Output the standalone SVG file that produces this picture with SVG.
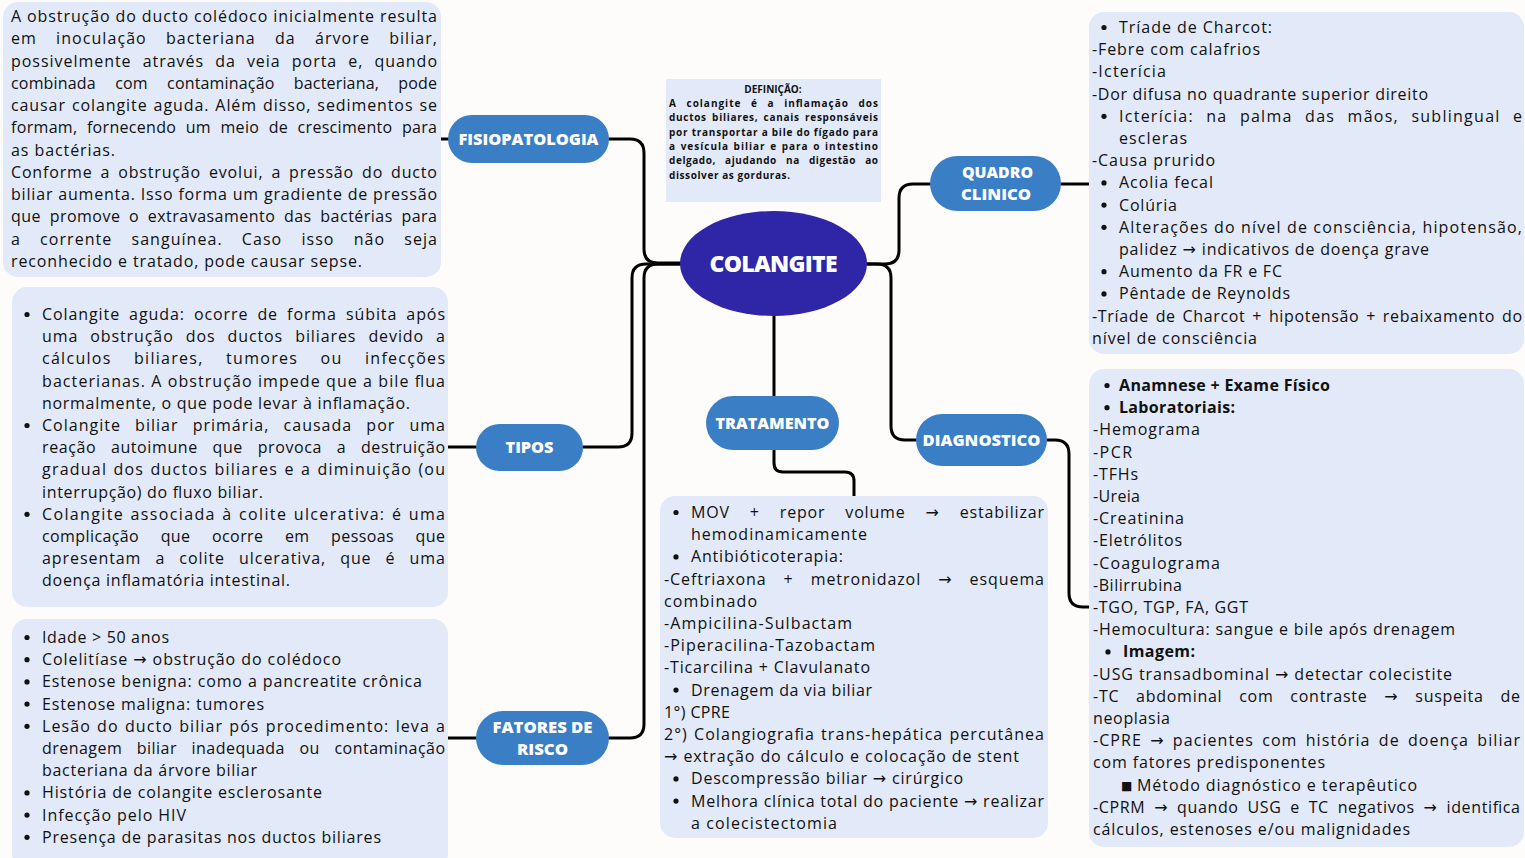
<svg xmlns="http://www.w3.org/2000/svg" width="1525" height="858" viewBox="0 0 1525 858">
<style>
.panel{fill:#e2e9f8}
.pill{fill:#3a7ec6}
.t{font-family:"Open Sans","DejaVu Sans",sans-serif;font-size:16px;fill:#111}
.dot{fill:#111}
.b{font-weight:700}
.pt{font-family:"Open Sans","DejaVu Sans",sans-serif;font-size:16px;font-weight:800;fill:#fff;text-anchor:middle}
.big{font-size:23px}
.sq{font-size:12px}
.def{font-family:"Open Sans","DejaVu Sans",sans-serif;font-size:10px;font-weight:700;fill:#111}
.conn{fill:none;stroke:#000;stroke-width:3;stroke-linecap:round;stroke-linejoin:round}
</style>
<rect width="1525" height="858" fill="#fdfcfa"/>

<g id="connectors">
<path class="conn" d="M441,139 H448"/>
<path class="conn" d="M609,139 H630 Q644,139 644,153 V249 Q644,263 658,263 H682"/>
<path class="conn" d="M448,447 H476"/>
<path class="conn" d="M583,447 H618 Q632,447 632,433 V278 Q632,264 646,264 H682"/>
<path class="conn" d="M448,738 H476"/>
<path class="conn" d="M609,738 H630 Q644,738 644,724 V278 Q644,264 658,264 H682"/>
<path class="conn" d="M865,264 H885 Q899,264 899,250 V198 Q899,184 913,184 H930"/>
<path class="conn" d="M865,264 H877 Q891,264 891,278 V426 Q891,440 905,440 H916"/>
<path class="conn" d="M1061,184 H1089"/>
<path class="conn" d="M1047,440 H1055 Q1069,440 1069,454 V593 Q1069,607 1083,607 H1092"/>
<path class="conn" d="M774,314 V397"/>
<path class="conn" d="M774,450 V463 Q774,472 783,472 H845 Q854,472 854,481 V496"/>
</g>

<g id="definicao">
<rect x="666" y="79" width="215" height="123" class="panel"/>
<text class="def" x="773" y="93" text-anchor="middle">DEFINIÇÃO:</text>
<text class="def" x="669" y="107" textLength="209" lengthAdjust="spacing" word-spacing="6">A colangite é a inflamação dos</text>
<text class="def" x="669" y="121.3" textLength="209" lengthAdjust="spacing" word-spacing="2">ductos biliares, canais responsáveis</text>
<text class="def" x="669" y="135.6" textLength="209" lengthAdjust="spacing">por transportar a bile do fígado para</text>
<text class="def" x="669" y="149.9" textLength="209" lengthAdjust="spacing" word-spacing="1">a vesícula biliar e para o intestino</text>
<text class="def" x="669" y="164.2" textLength="209" lengthAdjust="spacing" word-spacing="6">delgado, ajudando na digestão ao</text>
<text class="def" x="669" y="178.5" textLength="121" lengthAdjust="spacing">dissolver as gorduras.</text>
</g>

<g id="fisiopatologia-texto">
<rect x="3" y="2" width="438" height="275" rx="15" class="panel"/>
<text class="t" x="11" y="22" textLength="426" lengthAdjust="spacing">A obstrução do ducto colédoco inicialmente resulta</text>
<text class="t" x="11" y="44.3" textLength="426" lengthAdjust="spacing" word-spacing="14">em inoculação bacteriana da árvore biliar,</text>
<text class="t" x="11" y="66.5" textLength="426" lengthAdjust="spacing" word-spacing="6">possivelmente através da veia porta e, quando</text>
<text class="t" x="11" y="88.8" textLength="426" lengthAdjust="spacing" word-spacing="15">combinada com contaminação bacteriana, pode</text>
<text class="t" x="11" y="111.1" textLength="426" lengthAdjust="spacing" word-spacing="1">causar colangite aguda. Além disso, sedimentos se</text>
<text class="t" x="11" y="133.4" textLength="426" lengthAdjust="spacing" word-spacing="5">formam, fornecendo um meio de crescimento para</text>
<text class="t" x="11" y="155.6" textLength="104" lengthAdjust="spacing">as bactérias.</text>
<text class="t" x="11" y="177.9" textLength="426" lengthAdjust="spacing" word-spacing="3">Conforme a obstrução evolui, a pressão do ducto</text>
<text class="t" x="11" y="200.2" textLength="426" lengthAdjust="spacing">biliar aumenta. Isso forma um gradiente de pressão</text>
<text class="t" x="11" y="222.4" textLength="426" lengthAdjust="spacing" word-spacing="4">que promove o extravasamento das bactérias para</text>
<text class="t" x="11" y="244.7" textLength="426" lengthAdjust="spacing" word-spacing="14">a corrente sanguínea. Caso isso não seja</text>
<text class="t" x="11" y="267" textLength="351" lengthAdjust="spacing">reconhecido e tratado, pode causar sepse.</text>
</g>

<g id="tipos-texto">
<rect x="12" y="287" width="436" height="320" rx="15" class="panel"/>
<circle class="dot" cx="27" cy="314.5" r="2.6"/>
<text class="t" x="42" y="320" textLength="403" lengthAdjust="spacing" word-spacing="4">Colangite aguda: ocorre de forma súbita após</text>
<text class="t" x="42" y="342.2" textLength="403" lengthAdjust="spacing" word-spacing="7">uma obstrução dos ductos biliares devido a</text>
<text class="t" x="42" y="364.4" textLength="403" lengthAdjust="spacing" word-spacing="17">cálculos biliares, tumores ou infecções</text>
<text class="t" x="42" y="386.6" textLength="403" lengthAdjust="spacing">bacterianas. A obstrução impede que a bile flua</text>
<text class="t" x="42" y="408.8" textLength="368" lengthAdjust="spacing">normalmente, o que pode levar à inflamação.</text>
<circle class="dot" cx="27" cy="425.5" r="2.6"/>
<text class="t" x="42" y="431" textLength="403" lengthAdjust="spacing" word-spacing="9">Colangite biliar primária, causada por uma</text>
<text class="t" x="42" y="453.2" textLength="403" lengthAdjust="spacing" word-spacing="10">reação autoimune que provoca a destruição</text>
<text class="t" x="42" y="475.4" textLength="403" lengthAdjust="spacing" word-spacing="1">gradual dos ductos biliares e a diminuição (ou</text>
<text class="t" x="42" y="497.6" textLength="221" lengthAdjust="spacing">interrupção) do fluxo biliar.</text>
<circle class="dot" cx="27" cy="514.3" r="2.6"/>
<text class="t" x="42" y="519.8" textLength="403" lengthAdjust="spacing" word-spacing="1">Colangite associada à colite ulcerativa: é uma</text>
<text class="t" x="42" y="542" textLength="403" lengthAdjust="spacing" word-spacing="17">complicação que ocorre em pessoas que</text>
<text class="t" x="42" y="564.2" textLength="403" lengthAdjust="spacing" word-spacing="9">apresentam a colite ulcerativa, que é uma</text>
<text class="t" x="42" y="586.4" textLength="248" lengthAdjust="spacing">doença inflamatória intestinal.</text>
</g>

<g id="fatores-texto">
<rect x="12" y="619" width="436" height="250" rx="15" class="panel"/>
<circle class="dot" cx="27" cy="637.5" r="2.6"/>
<text class="t" x="42" y="643" textLength="127" lengthAdjust="spacing">Idade &gt; 50 anos</text>
<circle class="dot" cx="27" cy="659.7" r="2.6"/>
<text class="t" x="42" y="665.2" textLength="299" lengthAdjust="spacing">Colelitíase → obstrução do colédoco</text>
<circle class="dot" cx="27" cy="681.9" r="2.6"/>
<text class="t" x="42" y="687.4" textLength="380" lengthAdjust="spacing">Estenose benigna: como a pancreatite crônica</text>
<circle class="dot" cx="27" cy="704.1" r="2.6"/>
<text class="t" x="42" y="709.6" textLength="222" lengthAdjust="spacing">Estenose maligna: tumores</text>
<circle class="dot" cx="27" cy="726.3" r="2.6"/>
<text class="t" x="42" y="731.8" textLength="403" lengthAdjust="spacing" word-spacing="1">Lesão do ducto biliar pós procedimento: leva a</text>
<text class="t" x="42" y="754" textLength="403" lengthAdjust="spacing" word-spacing="10">drenagem biliar inadequada ou contaminação</text>
<text class="t" x="42" y="776.2" textLength="215" lengthAdjust="spacing">bacteriana da árvore biliar</text>
<circle class="dot" cx="27" cy="792.9" r="2.6"/>
<text class="t" x="42" y="798.4" textLength="280" lengthAdjust="spacing">História de colangite esclerosante</text>
<circle class="dot" cx="27" cy="815.1" r="2.6"/>
<text class="t" x="42" y="820.6" textLength="144" lengthAdjust="spacing">Infecção pelo HIV</text>
<circle class="dot" cx="27" cy="837.3" r="2.6"/>
<text class="t" x="42" y="842.8" textLength="339" lengthAdjust="spacing">Presença de parasitas nos ductos biliares</text>
</g>

<g id="tratamento-texto">
<rect x="660" y="496" width="388" height="342" rx="15" class="panel"/>
<circle class="dot" cx="676" cy="512.5" r="2.6"/>
<text class="t" x="691" y="518" textLength="353" lengthAdjust="spacing" word-spacing="15">MOV + repor volume → estabilizar</text>
<text class="t" x="691" y="540.2" textLength="176" lengthAdjust="spacing">hemodinamicamente</text>
<circle class="dot" cx="676" cy="556.9" r="2.6"/>
<text class="t" x="691" y="562.4" textLength="152" lengthAdjust="spacing">Antibióticoterapia:</text>
<text class="t" x="664" y="584.6" textLength="380" lengthAdjust="spacing" word-spacing="12">-Ceftriaxona + metronidazol → esquema</text>
<text class="t" x="664" y="606.8" textLength="93" lengthAdjust="spacing">combinado</text>
<text class="t" x="664" y="629" textLength="188" lengthAdjust="spacing">-Ampicilina-Sulbactam</text>
<text class="t" x="664" y="651.2" textLength="211" lengthAdjust="spacing">-Piperacilina-Tazobactam</text>
<text class="t" x="664" y="673.4" textLength="206" lengthAdjust="spacing">-Ticarcilina + Clavulanato</text>
<circle class="dot" cx="676" cy="690.1" r="2.6"/>
<text class="t" x="691" y="695.6" textLength="181" lengthAdjust="spacing">Drenagem da via biliar</text>
<text class="t" x="664" y="717.8" textLength="66" lengthAdjust="spacing">1°) CPRE</text>
<text class="t" x="664" y="740" textLength="380" lengthAdjust="spacing" word-spacing="1">2°) Colangiografia trans-hepática percutânea</text>
<text class="t" x="664" y="762.2" textLength="355" lengthAdjust="spacing">→ extração do cálculo e colocação de stent</text>
<circle class="dot" cx="676" cy="778.9" r="2.6"/>
<text class="t" x="691" y="784.4" textLength="272" lengthAdjust="spacing">Descompressão biliar → cirúrgico</text>
<circle class="dot" cx="676" cy="801.1" r="2.6"/>
<text class="t" x="691" y="806.6" textLength="353" lengthAdjust="spacing">Melhora clínica total do paciente → realizar</text>
<text class="t" x="691" y="828.8" textLength="146" lengthAdjust="spacing">a colecistectomia</text>
</g>

<g id="quadro-clinico-texto">
<rect x="1089" y="12" width="435" height="342" rx="15" class="panel"/>
<circle class="dot" cx="1104" cy="27.5" r="2.6"/>
<text class="t" x="1119" y="33" textLength="153" lengthAdjust="spacing">Tríade de Charcot:</text>
<text class="t" x="1092" y="55.2" textLength="168" lengthAdjust="spacing">-Febre com calafrios</text>
<text class="t" x="1092" y="77.4" textLength="74" lengthAdjust="spacing">-Icterícia</text>
<text class="t" x="1092" y="99.6" textLength="336" lengthAdjust="spacing">-Dor difusa no quadrante superior direito</text>
<circle class="dot" cx="1104" cy="116.3" r="2.6"/>
<text class="t" x="1119" y="121.8" textLength="403" lengthAdjust="spacing" word-spacing="7">Icterícia: na palma das mãos, sublingual e</text>
<text class="t" x="1119" y="144" textLength="68" lengthAdjust="spacing">escleras</text>
<text class="t" x="1092" y="166.2" textLength="123" lengthAdjust="spacing">-Causa prurido</text>
<circle class="dot" cx="1104" cy="182.9" r="2.6"/>
<text class="t" x="1119" y="188.4" textLength="94" lengthAdjust="spacing">Acolia fecal</text>
<circle class="dot" cx="1104" cy="205.1" r="2.6"/>
<text class="t" x="1119" y="210.6" textLength="58" lengthAdjust="spacing">Colúria</text>
<circle class="dot" cx="1104" cy="227.3" r="2.6"/>
<text class="t" x="1119" y="232.8" textLength="403" lengthAdjust="spacing">Alterações do nível de consciência, hipotensão,</text>
<text class="t" x="1119" y="255" textLength="310" lengthAdjust="spacing">palidez → indicativos de doença grave</text>
<circle class="dot" cx="1104" cy="271.7" r="2.6"/>
<text class="t" x="1119" y="277.2" textLength="163" lengthAdjust="spacing">Aumento da FR e FC</text>
<circle class="dot" cx="1104" cy="293.9" r="2.6"/>
<text class="t" x="1119" y="299.4" textLength="171" lengthAdjust="spacing">Pêntade de Reynolds</text>
<text class="t" x="1092" y="321.6" textLength="430" lengthAdjust="spacing" word-spacing="2">-Tríade de Charcot + hipotensão + rebaixamento do</text>
<text class="t" x="1092" y="343.8" textLength="165" lengthAdjust="spacing">nível de consciência</text>
</g>

<g id="diagnostico-texto">
<rect x="1089" y="369" width="435" height="478" rx="15" class="panel"/>
<circle class="dot" cx="1107" cy="385.5" r="2.6"/>
<text class="t b" x="1119" y="391" textLength="211" lengthAdjust="spacing">Anamnese + Exame Físico</text>
<circle class="dot" cx="1107" cy="407.7" r="2.6"/>
<text class="t b" x="1119" y="413.2" textLength="116" lengthAdjust="spacing">Laboratoriais:</text>
<text class="t" x="1093" y="435.4" textLength="107" lengthAdjust="spacing">-Hemograma</text>
<text class="t" x="1093" y="457.6" textLength="39" lengthAdjust="spacing">-PCR</text>
<text class="t" x="1093" y="479.8" textLength="45" lengthAdjust="spacing">-TFHs</text>
<text class="t" x="1093" y="502" textLength="47" lengthAdjust="spacing">-Ureia</text>
<text class="t" x="1093" y="524.2" textLength="91" lengthAdjust="spacing">-Creatinina</text>
<text class="t" x="1093" y="546.4" textLength="89" lengthAdjust="spacing">-Eletrólitos</text>
<text class="t" x="1093" y="568.6" textLength="127" lengthAdjust="spacing">-Coagulograma</text>
<text class="t" x="1093" y="590.8" textLength="89" lengthAdjust="spacing">-Bilirrubina</text>
<text class="t" x="1093" y="613" textLength="155" lengthAdjust="spacing">-TGO, TGP, FA, GGT</text>
<text class="t" x="1093" y="635.2" textLength="362" lengthAdjust="spacing">-Hemocultura: sangue e bile após drenagem</text>
<circle class="dot" cx="1108" cy="651.9" r="2.6"/>
<text class="t b" x="1123" y="657.4" textLength="72" lengthAdjust="spacing">Imagem:</text>
<text class="t" x="1093" y="679.6" textLength="359" lengthAdjust="spacing">-USG transadbominal → detectar colecistite</text>
<text class="t" x="1093" y="701.8" textLength="427" lengthAdjust="spacing" word-spacing="12">-TC abdominal com contraste → suspeita de</text>
<text class="t" x="1093" y="724" textLength="77" lengthAdjust="spacing">neoplasia</text>
<text class="t" x="1093" y="746.2" textLength="427" lengthAdjust="spacing" word-spacing="3">-CPRE → pacientes com história de doença biliar</text>
<text class="t" x="1093" y="768.4" textLength="232" lengthAdjust="spacing">com fatores predisponentes</text>
<text class="t sq" x="1121" y="789.5">■</text>
<text class="t" x="1137" y="790.6" textLength="280" lengthAdjust="spacing">Método diagnóstico e terapêutico</text>
<text class="t" x="1093" y="812.8" textLength="427" lengthAdjust="spacing" word-spacing="4">-CPRM → quando USG e TC negativos → identifica</text>
<text class="t" x="1093" y="835" textLength="317" lengthAdjust="spacing">cálculos, estenoses e/ou malignidades</text>
</g>

<g id="colangite">
<ellipse cx="773.5" cy="263.5" rx="93.5" ry="52.5" fill="#2e26a6"/>
<text class="pt big" x="773.5" y="271.5" textLength="128" lengthAdjust="spacing">COLANGITE</text>
</g>
<g id="fisiopatologia">
<rect x="448" y="115" width="161" height="48" rx="24" class="pill"/>
<text class="pt" x="528.5" y="144.5" textLength="140" lengthAdjust="spacingAndGlyphs">FISIOPATOLOGIA</text>
</g>
<g id="tipos">
<rect x="476" y="424" width="107" height="47" rx="23.5" class="pill"/>
<text class="pt" x="529.5" y="453" textLength="48" lengthAdjust="spacingAndGlyphs">TIPOS</text>
</g>
<g id="fatores-de-risco">
<rect x="476" y="711" width="133" height="54" rx="27" class="pill"/>
<text class="pt" x="542.5" y="733" textLength="100" lengthAdjust="spacingAndGlyphs">FATORES DE</text>
<text class="pt" x="542.5" y="755" textLength="51" lengthAdjust="spacingAndGlyphs">RISCO</text>
</g>
<g id="tratamento">
<rect x="706" y="396" width="133" height="54" rx="27" class="pill"/>
<text class="pt" x="772.5" y="429" textLength="114" lengthAdjust="spacingAndGlyphs">TRATAMENTO</text>
</g>
<g id="quadro-clinico">
<rect x="930" y="156" width="131" height="55" rx="27.5" class="pill"/>
<text class="pt" x="997.5" y="178" textLength="71" lengthAdjust="spacingAndGlyphs">QUADRO</text>
<text class="pt" x="996" y="200" textLength="70" lengthAdjust="spacingAndGlyphs">CLINICO</text>
</g>
<g id="diagnostico">
<rect x="916" y="414" width="131" height="52" rx="26" class="pill"/>
<text class="pt" x="981.5" y="446" textLength="118" lengthAdjust="spacingAndGlyphs">DIAGNOSTICO</text>
</g>
</svg>
